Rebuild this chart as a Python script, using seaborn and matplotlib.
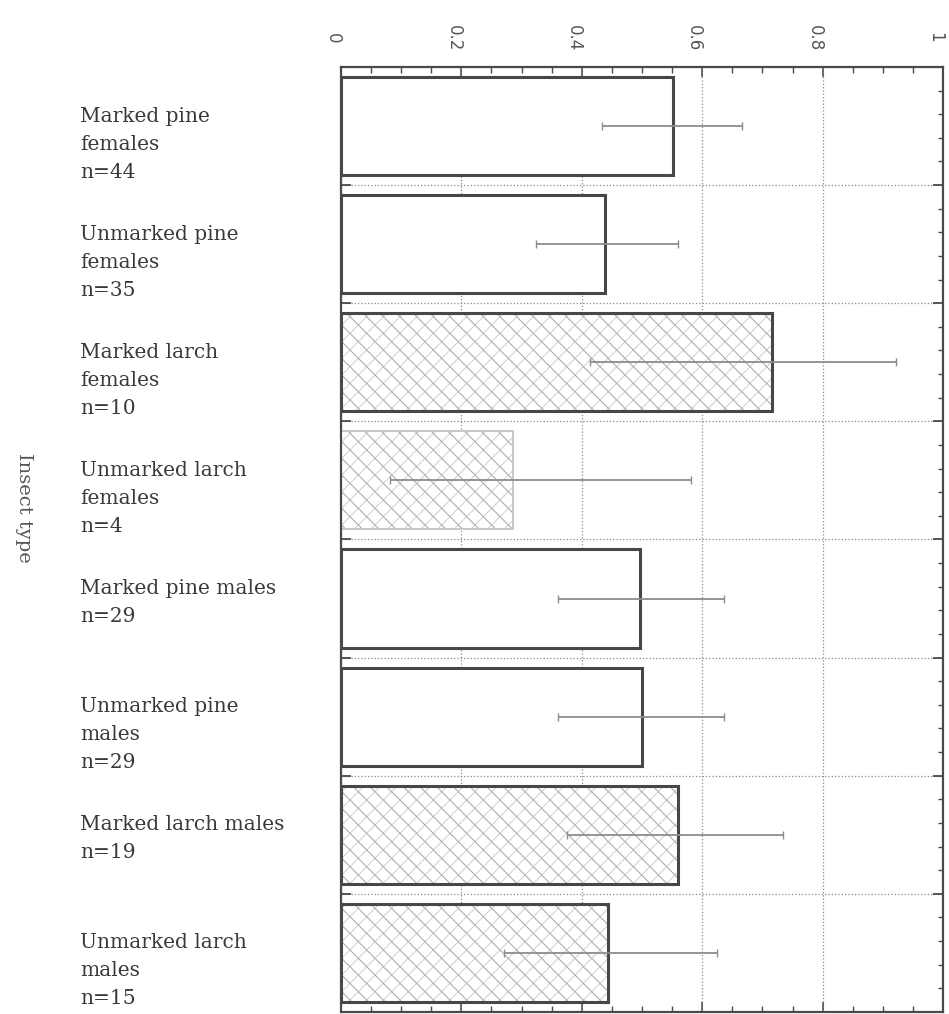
import numpy as np
import pandas as pd
import matplotlib
matplotlib.use("Agg")
import matplotlib.pyplot as plt
import matplotlib.transforms as mtransforms
from matplotlib.ticker import MultipleLocator, FixedLocator
import seaborn as sns

# ---------------- data ----------------
categories = [
    "Marked pine\nfemales\nn=44",
    "Unmarked pine\nfemales\nn=35",
    "Marked larch\nfemales\nn=10",
    "Unmarked larch\nfemales\nn=4",
    "Marked pine males\nn=29",
    "Unmarked pine\nmales\nn=29",
    "Marked larch males\nn=19",
    "Unmarked larch\nmales\nn=15",
]
proportions = [0.552, 0.439, 0.716, 0.286, 0.497, 0.500, 0.560, 0.443]
ci_low = [0.434, 0.324, 0.414, 0.082, 0.360, 0.360, 0.376, 0.270]
ci_high = [0.666, 0.560, 0.922, 0.581, 0.636, 0.636, 0.734, 0.625]
host = ["pine", "pine", "larch", "larch", "pine", "pine", "larch", "larch"]
x_ticks = [0, 0.2, 0.4, 0.6, 0.8, 1.0]
x_tick_labels = ["0", "0.2", "0.4", "0.6", "0.8", "1"]
y_label = "Insect type"

# ---------------- style ----------------
sns.set_style("white")
plt.rcParams["font.family"] = ["DejaVu Serif"]
plt.rcParams["hatch.linewidth"] = 0.8

fig = plt.figure(figsize=(9.49, 10.14), dpi=100)
ax = fig.add_axes([0.3593, 0.002, 0.6344, 0.932])

df = pd.DataFrame({"type": categories, "prop": proportions, "host": host})
n = len(categories)

def add_layer(**kw):
    before = len(ax.patches)
    sns.barplot(data=df, x="prop", y="type", order=categories, orient="h",
                width=0.83, ax=ax, errorbar=None, saturation=1, **kw)
    return ax.patches[before:]

# layer 1: white fill + light '/' hatch for larch
p1 = add_layer(color="white", linewidth=0)
for p, h in zip(p1, host):
    p.set_facecolor("white")
    p.set_linewidth(0)
    if h == "larch":
        p.set_hatch("//")
        p.set_edgecolor("#d4d4d4")
    p.set_zorder(2)

# layer 2: darker '\' hatch for larch
p2 = add_layer(color="white", linewidth=0)
for p, h in zip(p2, host):
    p.set_facecolor("none")
    p.set_linewidth(0)
    if h == "larch":
        p.set_hatch("\\\\")
        p.set_edgecolor("#adadad")
    else:
        p.set_edgecolor("none")
    p.set_zorder(2.1)

# layer 3: outlines
p3 = add_layer(color="white", linewidth=0)
for i, p in enumerate(p3):
    p.set_facecolor("none")
    if i == 3:
        p.set_edgecolor("#c4c4c4")
        p.set_linewidth(1.3)
    else:
        p.set_edgecolor("#474747")
        p.set_linewidth(2.2)
    p.set_zorder(2.2)

# error bars
props = np.array(proportions)
xerr = [props - np.array(ci_low), np.array(ci_high) - props]
ax.errorbar(props, np.arange(n), xerr=xerr, fmt="none", ecolor="#8c8c8c",
            elinewidth=1.3, capsize=3, capthick=1, zorder=3)

# axes limits / ticks
ax.set_xlim(0, 1)
ax.set_ylim(n - 0.5, -0.5)
ax.xaxis.set_major_locator(FixedLocator(x_ticks))
ax.set_xticklabels(x_tick_labels)
ax.xaxis.set_minor_locator(MultipleLocator(0.05))
ax.yaxis.set_major_locator(FixedLocator(np.arange(-0.5, n, 1.0)))
ax.yaxis.set_minor_locator(MultipleLocator(0.2, offset=0.1))
ax.set_yticklabels([])
ax.set_xlabel("")

ax.grid(True, which="major", axis="both", linestyle=":", color="#8a8a8a", linewidth=0.9)
ax.set_axisbelow(True)

ax.tick_params(axis="x", which="both", direction="in", top=True, bottom=True,
               labeltop=True, labelbottom=False, color="#4a4a4a")
ax.tick_params(axis="x", which="major", length=7, width=1.1, pad=21,
               labelrotation=-90, labelsize=12, labelcolor="#555555")
ax.tick_params(axis="x", which="minor", length=4.5, width=1)
ax.tick_params(axis="y", which="both", direction="in", left=True, right=True,
               labelleft=False, color="#4a4a4a")
ax.tick_params(axis="y", which="major", length=7, width=1.3)
ax.tick_params(axis="y", which="minor", length=3.5, width=1)
shift = mtransforms.ScaledTranslation(-8 / 100, 0, fig.dpi_scale_trans)
for tick in ax.xaxis.get_major_ticks():
    lbl = tick.label2
    lbl.set_va("center")
    lbl.set_ha("center")
    lbl.set_family(["DejaVu Sans"])
    lbl.set_transform(lbl.get_transform() + shift)

for s in ax.spines.values():
    s.set_color("#4a4a4a")
    s.set_linewidth(1.6)
    s.set_visible(True)

# category labels
ytrans = ax.get_yaxis_transform()
for i, lab in enumerate(categories):
    ax.annotate(lab, xy=(-0.433, i), xycoords=ytrans, xytext=(0, 14),
                textcoords="offset points", ha="left", va="top", fontsize=14.5,
                color="#3a3a3a", linespacing=1.6, annotation_clip=False)

ax.set_ylabel(y_label, rotation=-90, fontsize=14, color="#555555", va="center", ha="center")
ax.yaxis.set_label_coords(-0.527, 0.533)

fig.savefig("out.png", dpi=100, facecolor="white")
